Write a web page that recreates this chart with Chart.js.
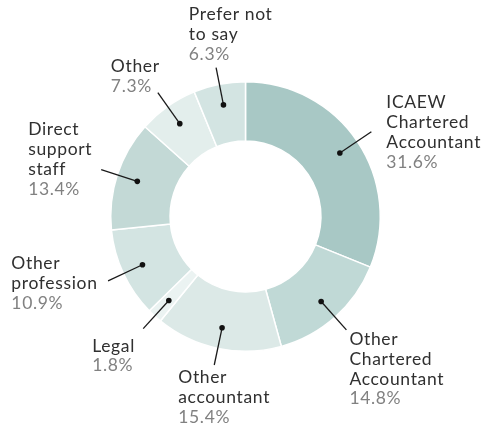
<!DOCTYPE html>
<html>
<head>
<meta charset="utf-8">
<script src="https://cdn.jsdelivr.net/npm/chart.js@4.4.1/dist/chart.umd.min.js"></script>
<style>
  html, body { margin: 0; padding: 0; background: #ffffff; }
  #wrap { position: relative; width: 485px; height: 427px; }
</style>
</head>
<body>
<div id="wrap"><canvas id="c" width="485" height="427"></canvas></div>
<script>
// ---- data ----
const categories = [
  ["ICAEW", "Chartered", "Accountant"],
  ["Other", "Chartered", "Accountant"],
  ["Other", "accountant"],
  ["Legal"],
  ["Other", "profession"],
  ["Direct", "support", "staff"],
  ["Other"],
  ["Prefer not", "to say"]
];
const shares = [31.6, 14.8, 15.4, 1.8, 10.9, 13.4, 7.3, 6.3];
const shareLabels = ["31.6%", "14.8%", "15.4%", "1.8%", "10.9%", "13.4%", "7.3%", "6.3%"];

// ---- styling / layout hints ----
const sliceColors = ["#a8c8c5", "#c0d9d6", "#dce9e7", "#ebf3f2", "#d3e4e2", "#c3d9d6", "#e3eeec", "#d3e4e2"];
// label block offset from the leader-line end: [dx to left edge, dy to first line centre]
const labelOffsets = [[15, -29], [3, 9.5], [-36, 12.6], [-51, 17.4], [-96.7, -17.5], [-73, -40], [-47, -26.2], [-27.3, -52.9]];

const FONT = '17.5px Lato, "Open Sans", sans-serif';
const LETTER_SPACING = '0.65px';
const LINE_H = 19.8;

const leaderPlugin = {
  id: 'leaders',
  afterDatasetsDraw(chart) {
    const ctx = chart.ctx;
    const meta = chart.getDatasetMeta(0);
    ctx.save();
    meta.data.forEach((arc, i) => {
      const p = arc.getProps(['x', 'y', 'startAngle', 'endAngle', 'innerRadius', 'outerRadius'], true);
      const mid = (p.startAngle + p.endAngle) / 2;
      const rDot = p.innerRadius + (p.outerRadius - p.innerRadius) * 0.646;
      const rEnd = p.outerRadius + 17;
      const dx = p.x + Math.cos(mid) * rDot, dy = p.y + Math.sin(mid) * rDot;
      const ex = p.x + Math.cos(mid) * rEnd, ey = p.y + Math.sin(mid) * rEnd;
      ctx.strokeStyle = '#1a1a1a';
      ctx.lineWidth = 1.3;
      ctx.beginPath();
      ctx.moveTo(dx, dy);
      ctx.lineTo(ex, ey);
      ctx.stroke();
      ctx.fillStyle = '#111';
      ctx.beginPath();
      ctx.arc(dx, dy, 2.8, 0, Math.PI * 2);
      ctx.fill();

      const off = labelOffsets[i];
      const lx = ex + off[0];
      let ly = ey + off[1];
      ctx.font = FONT;
      if ('letterSpacing' in ctx) ctx.letterSpacing = LETTER_SPACING;
      ctx.textAlign = 'left';
      ctx.textBaseline = 'middle';
      ctx.fillStyle = '#303030';
      categories[i].forEach(line => { ctx.fillText(line, lx, ly); ly += LINE_H; });
      ctx.fillStyle = '#818181';
      ctx.fillText(shareLabels[i], lx, ly);
    });
    ctx.restore();
  }
};

new Chart(document.getElementById('c'), {
  type: 'doughnut',
  data: {
    labels: categories.map(c => c.join(' ')),
    datasets: [{
      data: shares,
      backgroundColor: sliceColors,
      borderColor: '#ffffff',
      borderWidth: 1.5,
      hoverOffset: 0
    }]
  },
  options: {
    responsive: false,
    animation: false,
    cutout: '56%',
    layout: { padding: { top: 81, left: 109, right: 103, bottom: 75 } },
    plugins: { legend: { display: false }, tooltip: { enabled: false } },
    events: []
  },
  plugins: [leaderPlugin]
});
</script>
</body>
</html>
